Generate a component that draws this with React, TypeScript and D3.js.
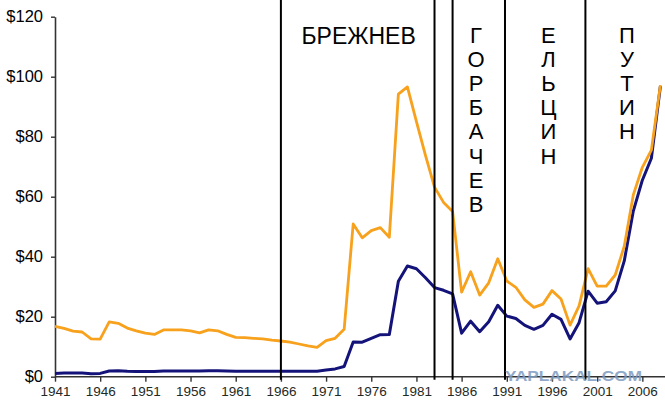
import React, { useEffect, useRef } from 'react';
import * as d3 from 'd3';

// Oil price per barrel, 1941-2008
const years = d3.range(1941, 2009);

// real (2008 dollars)
const realPrice = [
  16.8, 16.1, 15.2, 14.9, 12.6, 12.5, 18.3, 17.8, 16.2, 15.3,
  14.5, 14.1, 15.6, 15.6, 15.6, 15.3, 14.6, 15.6, 15.3, 14.1,
  13.1, 13.0, 12.8, 12.6, 12.2, 11.9, 11.5, 10.9, 10.3, 9.8,
  12.0, 12.8, 15.8, 50.9, 46.3, 48.7, 49.7, 46.5, 94.2, 96.6,
  85.0, 73.8, 63.2, 58.1, 55.1, 28.2, 35.0, 27.2, 31.3, 39.3,
  31.9, 29.8, 25.6, 23.1, 24.2, 28.7, 25.9, 17.2, 23.6, 36.0,
  30.2, 30.2, 33.9, 43.5, 60.6, 69.8, 75.5, 97.2,
];

// nominal dollars
const nominalPrice = [
  1.1, 1.2, 1.2, 1.2, 1.0, 1.1, 1.9, 2.0, 1.8, 1.7,
  1.7, 1.7, 1.9, 1.9, 1.9, 1.9, 1.9, 2.0, 2.0, 1.9,
  1.8, 1.8, 1.8, 1.8, 1.8, 1.8, 1.8, 1.8, 1.8, 1.8,
  2.2, 2.6, 3.4, 11.6, 11.5, 12.8, 14.0, 14.1, 31.8, 36.9,
  36.0, 33.0, 29.7, 28.8, 27.6, 14.5, 18.5, 15.0, 18.3, 23.8,
  20.2, 19.4, 17.1, 15.8, 17.1, 20.8, 19.1, 12.6, 18.0, 28.5,
  24.5, 25.0, 28.6, 38.6, 55.2, 65.5, 72.8, 96.9,
];

// boundaries between leaders (position in years)
const boundaries = [1966, 1983, 1985, 1990.8, 1999.7];

const yTicks = [0, 20, 40, 60, 80, 100, 120];
const xTicks = d3.range(1941, 2007, 5);

const leaders = [
  { name: 'БРЕЖНЕВ', year: 1974.6, vertical: false },
  { name: 'ГОРБАЧЕВ', year: 1987.6, vertical: true },
  { name: 'ЕЛЬЦИН', year: 1995.6, vertical: true },
  { name: 'ПУТИН', year: 2004.3, vertical: true },
];

const App: React.FC = () => {
  const svgRef = useRef<SVGSVGElement>(null);

  useEffect(() => {
    if (!svgRef.current) return;
    const svg = d3.select(svgRef.current);
    svg.selectAll('*').remove();

    const width = 665;
    const height = 405;
    const left = 55;
    const bottom = 376.7;
    const top = 16.7;

    const x = d3.scaleLinear().domain([1941, 2008]).range([left, left + 67 * 9.036]);
    const y = d3.scaleLinear().domain([0, 120]).range([bottom, top]);

    svg.attr('width', width).attr('height', height);
    svg.append('rect').attr('width', width).attr('height', height).attr('fill', '#fff');

    const font = 'Arial, "Liberation Sans", sans-serif';

    // Y axis
    const yAxis = svg
      .append('g')
      .attr('transform', `translate(${left},0)`)
      .call(
        d3.axisLeft(y)
          .tickValues(yTicks)
          .tickFormat(d => `$${d}`)
          .tickSize(4)
          .tickSizeOuter(0)
          .tickPadding(8)
      );
    yAxis.select('.domain').attr('stroke', '#333').attr('stroke-width', 1.6);
    yAxis.selectAll('.tick line').attr('stroke', '#333').attr('stroke-width', 1.4);
    yAxis
      .selectAll('.tick text')
      .attr('font-family', font)
      .attr('font-size', 16.5)
      .attr('fill', '#000');

    // X axis
    const xAxis = svg
      .append('g')
      .attr('transform', `translate(0,${bottom})`)
      .call(
        d3.axisBottom(x)
          .tickValues(xTicks)
          .tickFormat(d3.format('d'))
          .tickSize(5)
          .tickSizeOuter(0)
          .tickPadding(5)
      );
    xAxis.select('.domain').remove();
    xAxis.selectAll('.tick line').attr('stroke', '#333').attr('stroke-width', 1.4);
    xAxis
      .selectAll('.tick text')
      .attr('font-family', font)
      .attr('font-size', 13.5)
      .attr('fill', '#1f2a26');
    svg
      .append('line')
      .attr('x1', left)
      .attr('x2', width)
      .attr('y1', bottom)
      .attr('y2', bottom)
      .attr('stroke', '#333')
      .attr('stroke-width', 1.6);

    // Lines
    const line = (vals: number[]) =>
      d3
        .line<number>()
        .x((_, i) => x(years[i]))
        .y(d => y(d))(vals);

    svg
      .append('path')
      .attr('d', line(nominalPrice))
      .attr('fill', 'none')
      .attr('stroke', '#14137a')
      .attr('stroke-width', 3)
      .attr('stroke-linejoin', 'round');

    svg
      .append('path')
      .attr('d', line(realPrice))
      .attr('fill', 'none')
      .attr('stroke', '#f7a11c')
      .attr('stroke-width', 2.8)
      .attr('stroke-linejoin', 'round');

    // Leader boundaries
    svg
      .selectAll('.boundary')
      .data(boundaries)
      .enter()
      .append('line')
      .attr('class', 'boundary')
      .attr('x1', d => x(d))
      .attr('x2', d => x(d))
      .attr('y1', 0)
      .attr('y2', bottom + 3)
      .attr('stroke', '#000')
      .attr('stroke-width', 2);

    // Leader names
    leaders.forEach(l => {
      if (!l.vertical) {
        svg
          .append('text')
          .attr('x', x(l.year))
          .attr('y', 44)
          .attr('text-anchor', 'middle')
          .attr('font-family', font)
          .attr('font-size', 23)
          .attr('fill', '#000')
          .text(l.name);
      } else {
        const t = svg
          .append('text')
          .attr('text-anchor', 'middle')
          .attr('font-family', font)
          .attr('font-size', 22)
          .attr('fill', '#000');
        Array.from(l.name).forEach((ch, i) => {
          t.append('tspan')
            .attr('x', x(l.year))
            .attr('y', 43 + i * 24.1)
            .text(ch);
        });
      }
    });

    // Watermark
    svg
      .append('text')
      .attr('x', 505)
      .attr('y', 381)
      .attr('font-family', font)
      .attr('font-size', 15)
      .attr('font-weight', 'bold')
      .attr('textLength', 137)
      .attr('lengthAdjust', 'spacingAndGlyphs')
      .attr('fill', '#7e9cc2')
      .attr('opacity', 0.85)
      .text('YAPLAKAL.COM');
  }, []);

  return (
    <div style={{ position: 'absolute', left: 0, top: 0 }}>
      <svg ref={svgRef} style={{ display: 'block' }}></svg>
    </div>
  );
};

export default App;
